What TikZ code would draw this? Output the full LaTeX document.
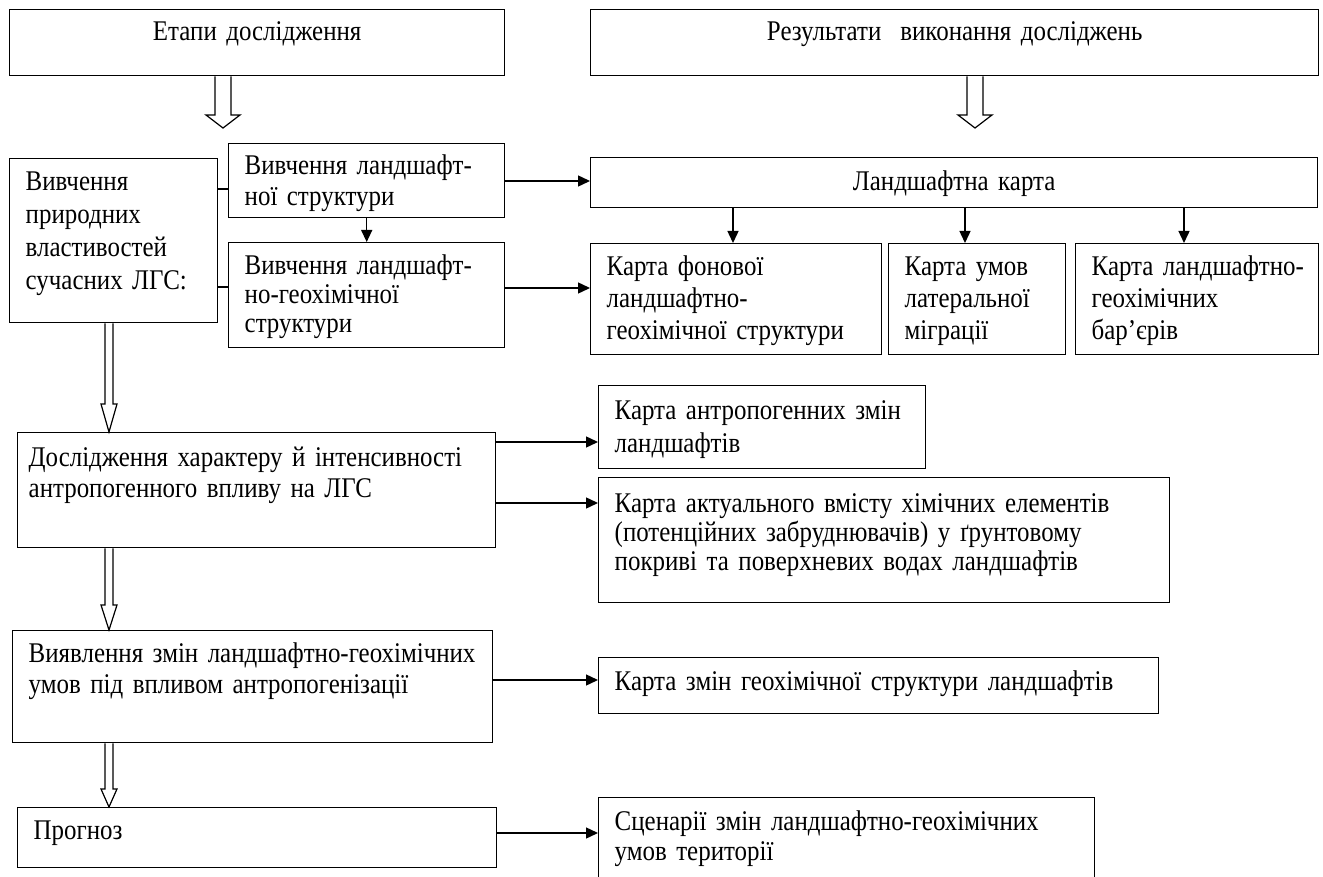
\documentclass[tikz,border=0pt]{standalone}
\usepackage{fontspec}
\setmainfont{Liberation Serif}[FakeStretch=0.875]
\usetikzlibrary{arrows.meta,calc}

\begin{document}
\begin{tikzpicture}[x=1pt, y=-1pt, line width=1.4pt,
    every node/.style={font=\fontsize{28.5pt}{31pt}\selectfont},
    blk/.style={draw, anchor=north west, inner xsep=16pt, inner ysep=0pt, align=left},
    mid/.style={blk, align=center},
    arr/.style={-{Triangle[length=12pt,width=11pt]}},
    hollow/.style n args={3}{line width=1.2pt, to path={let \p1=(\tikztostart), \p2=(\tikztotarget) in
      (\x1-#1,\y1) -- (\x1-#1,\y2+#3) -- (\x1-#2,\y2+#3) -- (\x1,\y2)
      -- (\x1+#2,\y2+#3) -- (\x1+#1,\y2+#3) -- (\x1+#1,\y1)}}]
  \clip (0,0) rectangle (1323,877);
  \node[mid, text width=463pt, text height=31pt, text depth=35pt] (stages) at (9,9) {Етапи дослідження};
  \node[mid, text width=696pt, text height=31pt, text depth=35pt] (results) at (590,9) {Результати~ виконання досліджень};
  \node[blk, font=\fontsize{28.5pt}{33pt}\selectfont, text width=176pt, text height=32pt, text depth=132pt] (nature) at (9,158) {Вивчення\\природних\\властивостей\\сучасних~ЛГС:};
  \node[blk, text width=244pt, text height=31pt, text depth=43pt] (ln1) at (228,143) {Вивчення ландшафт-\\ної структури};
  \node[blk, font=\fontsize{28.5pt}{29pt}\selectfont, text width=244pt, text height=32pt, text depth=73pt] (ln2) at (228,242) {Вивчення ландшафт-\\но-геохімічної\\структури};
  \node[mid, text width=695pt, text height=33pt, text depth=17pt] (lmap) at (590,157) {Ландшафтна карта};
  \node[blk, font=\fontsize{28.5pt}{32pt}\selectfont, text width=259pt, text height=32pt, text depth=79pt] (fon) at (590,243) {Карта фонової\\ландшафтно-\\геохімічної структури};
  \node[blk, font=\fontsize{28.5pt}{32pt}\selectfont, text width=145pt, text height=32pt, text depth=79pt] (lat) at (888,243) {Карта умов\\латеральної\\міграції};
  \node[blk, font=\fontsize{28.5pt}{32pt}\selectfont, text width=211pt, text height=32pt, text depth=79pt] (bar) at (1075,243) {\mbox{Карта ландшафтно-}\\геохімічних\\бар’єрів};
  \node[blk, inner xsep=11pt, text width=456pt, text height=34pt, text depth=81pt] (study) at (17,432) {Дослідження характеру й інтенсивності\\антропогенного впливу на ЛГС};
  \node[blk, font=\fontsize{28.5pt}{33pt}\selectfont, text width=295pt, text height=34pt, text depth=49pt] (anthro) at (598,385) {Карта антропогенних змін\\ландшафтів};
  \node[blk, font=\fontsize{28.5pt}{29pt}\selectfont, text width=539pt, text height=35pt, text depth=90pt] (actual) at (598,477) {Карта актуального вмісту хімічних елементів\\(потенційних забруднювачів) у ґрунтовому\\покриві та поверхневих водах ландшафтів};
  \node[blk, text width=448pt, text height=32pt, text depth=80pt] (reveal) at (12,630) {\mbox{Виявлення змін ландшафтно-геохімічних}\\умов під впливом антропогенізації};
  \node[blk, text width=528pt, text height=33pt, text depth=23pt] (changes) at (598,657) {Карта змін геохімічної структури ландшафтів};
  \node[blk, text width=447pt, text height=32pt, text depth=28pt] (prog) at (17,807) {Прогноз};
  \node[blk, font=\fontsize{28.5pt}{30pt}\selectfont, text width=464pt, text height=33pt, text depth=77pt] (scen) at (598,797) {Сценарії змін ландшафтно-геохімічних\\умов території};
  \coordinate (s1) at (223,128);
  \coordinate (r1) at (975,128);
  \coordinate (lx) at (109,0);
  \draw[hollow={8pt}{17pt}{13pt}] (stages.south -| s1) to (s1);
  \draw[hollow={8pt}{17pt}{13pt}] (results.south -| r1) to (r1);
  \draw[hollow={4pt}{8pt}{28pt}] (nature.south -| lx) to (study.north -| lx);
  \draw[hollow={4pt}{8pt}{25pt}] (study.south -| lx) to (reveal.north -| lx);
  \draw[hollow={4pt}{8pt}{18pt}] (reveal.south -| lx) to (prog.north -| lx);
  \draw (nature.east |- 0,189) -- (ln1.west |- 0,189);
  \draw (nature.east |- 0,287) -- (ln2.west |- 0,287);
  \draw[arr] (ln1) -- (ln2);
  \draw[arr] (ln1.east |- 0,181) -- (lmap.west |- 0,181);
  \draw[arr] (ln2.east |- 0,288) -- (fon.west |- 0,288);
  \foreach \b/\x in {fon/733, lat/965, bar/1184}
    \draw[arr] (lmap.south -| \x,0) -- (\b.north -| \x,0);
  \draw[arr] (study.east |- 0,442) -- (anthro.west |- 0,442);
  \draw[arr] (study.east |- 0,503) -- (actual.west |- 0,503);
  \draw[arr] (reveal.east |- 0,680) -- (changes.west |- 0,680);
  \draw[arr] (prog.east |- 0,833) -- (scen.west |- 0,833);
\end{tikzpicture}
\end{document}
